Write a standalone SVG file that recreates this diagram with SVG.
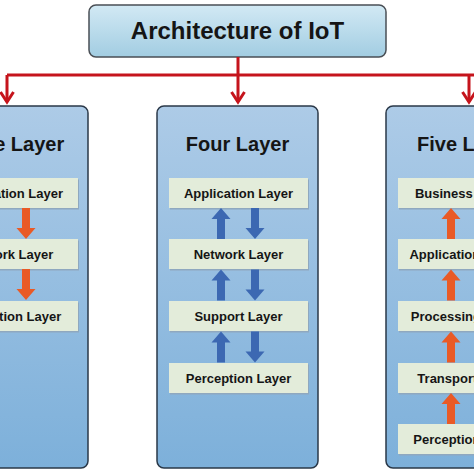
<svg xmlns="http://www.w3.org/2000/svg" xmlns:xlink="http://www.w3.org/1999/xlink" width="474" height="474" viewBox="0 0 474 474">
<defs>
<linearGradient id="gTop" x1="0" y1="0" x2="0" y2="1">
<stop offset="0" stop-color="#d2e9f4"/>
<stop offset="1" stop-color="#a2cde2"/>
</linearGradient>
<linearGradient id="gPanel" x1="0" y1="0" x2="0" y2="1">
<stop offset="0" stop-color="#adcbe7"/>
<stop offset="1" stop-color="#7db0da"/>
</linearGradient>
<path id="up" d="M-4,31 V11 H-9.5 L0,0 L9.5,11 H4 V31 Z"/>
<path id="down" d="M-4,0 V20 H-9.5 L0,31 L9.5,20 H4 V0 Z"/>
</defs>
<style>
text{font-family:"Liberation Sans",Arial,sans-serif;font-weight:bold;fill:#151515;text-anchor:middle}
.title{font-size:24px}
.ptitle{font-size:20px}
.lt{font-size:13px}
.panel{fill:url(#gPanel);stroke:#2a3848;stroke-width:1.5}
.top{fill:url(#gTop);stroke:#4a4f55;stroke-width:1.5}
.lay{fill:#e3ecda}
.sh{fill:#8fa8bf}
.red{fill:none;stroke:#c5141c;stroke-width:3}
.blue{fill:#3c68b2}
.orange{fill:#e95a26}
</style>

<g id="node-architecture">
<rect class="top" x="89" y="5" width="297" height="52" rx="7"/>
<text class="title" x="237.5" y="39">Architecture of IoT</text>
</g>

<g id="connectors">
<path class="red" d="M238,57 V102 M7,75 H476 M7,75 V102 M469,75 V102"/>
<path class="red" d="M0.5,92 L7,102 L13.5,92 M231.5,92 L238,102 L244.5,92 M462.5,92 L469,102 L475.5,92"/>
</g>

<g id="node-three-layer">
<rect class="panel" x="-73" y="106" width="161" height="362" rx="7"/>
<text class="ptitle" x="7.5" y="151">Three Layer</text>
<g id="three-application"><rect class="sh" x="-60" y="179.5" width="139" height="30"/><rect class="lay" x="-61" y="178" width="139" height="30"/><text class="lt" x="8.5" y="197.5">Application Layer</text></g>
<g id="three-network"><rect class="sh" x="-60" y="240.5" width="139" height="30"/><rect class="lay" x="-61" y="239" width="139" height="30"/><text class="lt" x="8.5" y="258.5">Network Layer</text></g>
<g id="three-perception"><rect class="sh" x="-60" y="302.5" width="139" height="30"/><rect class="lay" x="-61" y="301" width="139" height="30"/><text class="lt" x="8.5" y="320.5">Perception Layer</text></g>
<g class="orange">
<use xlink:href="#down" href="#down" x="26" y="208"/>
<use xlink:href="#down" href="#down" x="26" y="269"/>
</g>
</g>

<g id="node-four-layer">
<rect class="panel" x="157" y="106" width="161" height="362" rx="7"/>
<text class="ptitle" x="237.5" y="151">Four Layer</text>
<g id="four-application"><rect class="sh" x="170" y="179.5" width="139" height="30"/><rect class="lay" x="169" y="178" width="139" height="30"/><text class="lt" x="238.5" y="197.5">Application Layer</text></g>
<g id="four-network"><rect class="sh" x="170" y="240.5" width="139" height="30"/><rect class="lay" x="169" y="239" width="139" height="30"/><text class="lt" x="238.5" y="258.5">Network Layer</text></g>
<g id="four-support"><rect class="sh" x="170" y="302.5" width="139" height="30"/><rect class="lay" x="169" y="301" width="139" height="30"/><text class="lt" x="238.5" y="320.5">Support Layer</text></g>
<g id="four-perception"><rect class="sh" x="170" y="364.5" width="139" height="30"/><rect class="lay" x="169" y="363" width="139" height="30"/><text class="lt" x="238.5" y="382.5">Perception Layer</text></g>
<g class="blue">
<use xlink:href="#up" href="#up" x="221" y="208"/>
<use xlink:href="#down" href="#down" x="255" y="208"/>
<use xlink:href="#up" href="#up" x="221" y="269.5"/>
<use xlink:href="#down" href="#down" x="255" y="269.5"/>
<use xlink:href="#up" href="#up" x="221" y="331.5"/>
<use xlink:href="#down" href="#down" x="255" y="331.5"/>
</g>
</g>

<g id="node-five-layer">
<rect class="panel" x="386" y="106" width="161" height="362" rx="7"/>
<text class="ptitle" x="466.5" y="151">Five Layer</text>
<g id="five-business"><rect class="sh" x="399" y="179.5" width="139" height="30"/><rect class="lay" x="398" y="178" width="139" height="30"/><text class="lt" x="463" y="197.5">Business Layer</text></g>
<g id="five-application"><rect class="sh" x="399" y="240.5" width="139" height="30"/><rect class="lay" x="398" y="239" width="139" height="30"/><text class="lt" x="464" y="258.5">Application Layer</text></g>
<g id="five-processing"><rect class="sh" x="399" y="302.5" width="139" height="30"/><rect class="lay" x="398" y="301" width="139" height="30"/><text class="lt" x="465" y="320.5">Processing Layer</text></g>
<g id="five-transport"><rect class="sh" x="399" y="364.5" width="139" height="30"/><rect class="lay" x="398" y="363" width="139" height="30"/><text class="lt" x="466.5" y="382.5">Transport Layer</text></g>
<g id="five-perception"><rect class="sh" x="399" y="425.5" width="139" height="30"/><rect class="lay" x="398" y="424" width="139" height="30"/><text class="lt" x="466" y="443.5">Perception Layer</text></g>
<g class="orange">
<use xlink:href="#up" href="#up" x="451" y="208"/>
<use xlink:href="#up" href="#up" x="451" y="269.5"/>
<use xlink:href="#up" href="#up" x="451" y="331.5"/>
<use xlink:href="#up" href="#up" x="451" y="393"/>
</g>
</g>
</svg>
